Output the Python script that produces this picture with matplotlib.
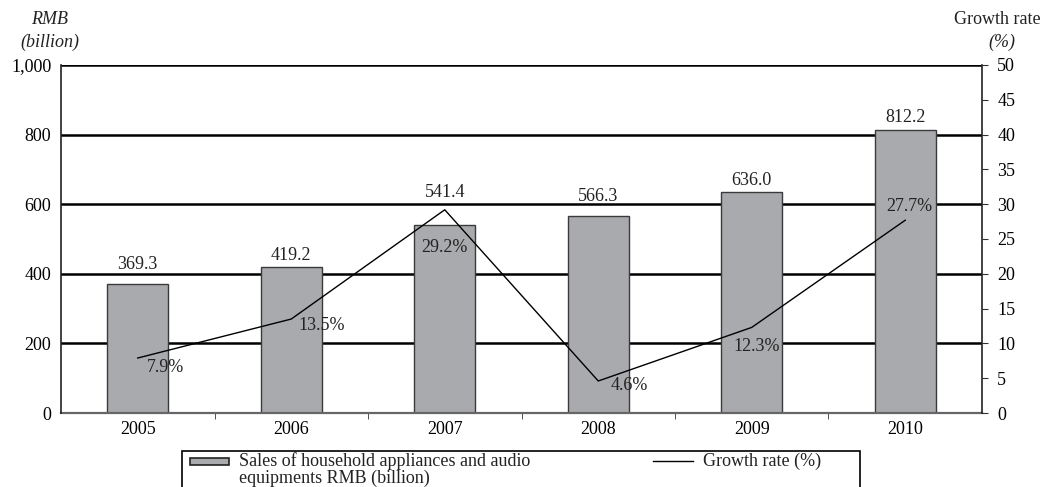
import matplotlib
matplotlib.use("Agg")
import matplotlib.pyplot as plt
from matplotlib.patches import Rectangle
from matplotlib.lines import Line2D

years = ["2005", "2006", "2007", "2008", "2009", "2010"]
sales = [369.3, 419.2, 541.4, 566.3, 636.0, 812.2]
growth = [7.9, 13.5, 29.2, 4.6, 12.3, 27.7]
sales_labels = ["369.3", "419.2", "541.4", "566.3", "636.0", "812.2"]
growth_labels = ["7.9%", "13.5%", "29.2%", "4.6%", "12.3%", "27.7%"]
left_ticks = [0, 200, 400, 600, 800, 1000]
left_ticklabels = ["0", "200", "400", "600", "800", "1,000"]
right_ticks = [0, 5, 10, 15, 20, 25, 30, 35, 40, 45, 50]

plt.rcParams["font.family"] = ["Liberation Serif", "DejaVu Serif"]
plt.rcParams["font.size"] = 13

W, H = 1041, 487
BAR_COLOR = "#a9aaad"
TEXT_COLOR = "#222222"

fig = plt.figure(figsize=(W / 100, H / 100), dpi=100)
ax = fig.add_axes([61 / W, 1 - 413 / H, 921 / W, 348 / H])
ax2 = ax.twinx()

x = list(range(len(years)))
ax.bar(x, sales, width=0.4, color=BAR_COLOR, edgecolor="#3a3a3a", linewidth=1.0, zorder=3)

# value labels above the bars (pixel offset above each bar top)
bar_label_lift = [20, 12, 32, 19, 11, 13]
for xi, v, s, lift in zip(x, sales, sales_labels, bar_label_lift):
    ax.annotate(s, (xi, v), xytext=(0, lift), textcoords="offset pixels",
                ha="center", va="center", color=TEXT_COLOR, zorder=5)

ax.set_xlim(-0.5, len(years) - 0.5)
ax.set_ylim(0, 1000)
ax.set_yticks(left_ticks)
ax.set_yticklabels(left_ticklabels)
for t in left_ticks[1:]:
    ax.axhline(t, color="black", linewidth=1.8, zorder=2)

ax.set_xticks(x)
ax.set_xticklabels(years)
ax.set_xticks([i + 0.5 for i in x[:-1]], minor=True)
ax.tick_params(axis="x", which="major", length=0, pad=6)
ax.tick_params(axis="x", which="minor", length=4, direction="out", color="#333333")
ax.tick_params(axis="y", length=0, pad=7)

for side in ("left", "right", "top"):
    ax.spines[side].set_visible(False)
ax.spines["bottom"].set_color("#666666")
ax.spines["bottom"].set_linewidth(1.6)
ax.spines["bottom"].set_zorder(6)

ax2.plot(x, growth, color="black", linewidth=1.0, zorder=4)
ax2.set_ylim(0, 50)
ax2.set_yticks(right_ticks)
ax2.tick_params(axis="y", length=4, direction="out", pad=7, color="#333333")
for side in ("left", "right"):
    ax2.spines[side].set_color("#222222")
    ax2.spines[side].set_linewidth(1.2)
ax2.spines["top"].set_visible(False)
ax2.spines["bottom"].set_visible(False)

# growth-rate labels, offset in pixels from each point (x right, y down)
growth_label_shift = [(28, 9), (30, 6), (0, 38), (31, 5), (5, 19), (4, -14)]
for xi, g, s, (dx, dy) in zip(x, growth, growth_labels, growth_label_shift):
    ax2.annotate(s, (xi, g), xytext=(dx, -dy), textcoords="offset pixels",
                 ha="center", va="center", color=TEXT_COLOR, zorder=6)

def fx(px):
    return px / W

def fy(py):
    return 1 - py / H

fig.text(fx(50), fy(20), "RMB", ha="center", va="center", style="italic", color=TEXT_COLOR)
fig.text(fx(50), fy(42), "(billion)", ha="center", va="center", style="italic", color=TEXT_COLOR)
fig.text(fx(997), fy(20), "Growth rate", ha="center", va="center", color=TEXT_COLOR)
fig.text(fx(1002), fy(42), "(%)", ha="center", va="center", style="italic", color=TEXT_COLOR)

# legend box, running past the lower edge of the figure
fig.patches.append(Rectangle((fx(182), fy(500)), fx(860) - fx(182), fy(451) - fy(500),
                             transform=fig.transFigure, facecolor="none",
                             edgecolor="black", linewidth=1.2))
fig.patches.append(Rectangle((fx(190), fy(465)), fx(229) - fx(190), fy(458) - fy(465),
                             transform=fig.transFigure, facecolor=BAR_COLOR,
                             edgecolor="#222222", linewidth=1.2))
fig.lines.append(Line2D([fx(653), fx(693)], [fy(461), fy(461)],
                        transform=fig.transFigure, color="black", linewidth=1.0))
fig.text(fx(239), fy(461), "Sales of household appliances and audio",
         ha="left", va="center", color=TEXT_COLOR)
fig.text(fx(239), fy(478), "equipments RMB (billion)",
         ha="left", va="center", color=TEXT_COLOR)
fig.text(fx(703), fy(461), "Growth rate (%)", ha="left", va="center", color=TEXT_COLOR)

fig.savefig("out.png", dpi=100)
